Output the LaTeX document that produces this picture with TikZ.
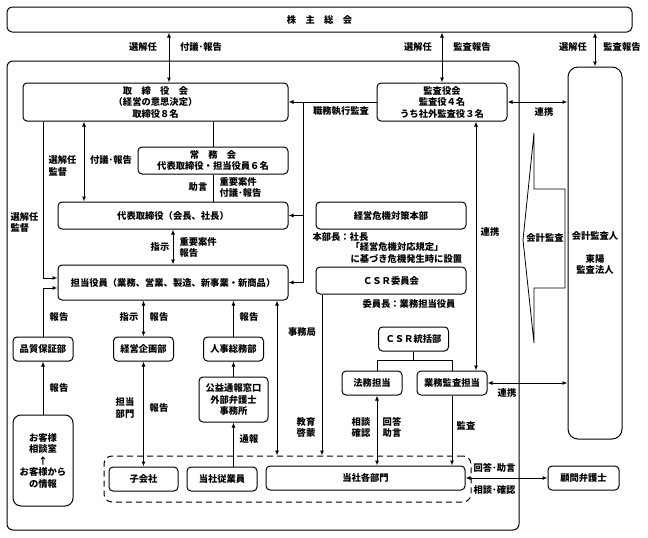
\documentclass[tikz,border=0pt]{standalone}
\usepackage{fontspec}
\setmainfont{Noto Sans CJK JP}
\usetikzlibrary{arrows.meta}
\begin{document}
\begin{tikzpicture}[x=1pt,y=-1pt,line width=1pt,>={Latex[length=5pt,width=4pt]},font=\bfseries\fontsize{9.3}{11.5}\selectfont]
\tikzstyle{unit} = [rectangle, rounded corners=4pt, draw=black, line width=1pt, inner sep=0pt, align=center]
\tikzstyle{lbl} = [inner sep=0pt, align=left]
\useasboundingbox (0,0) rectangle (648,538);
\draw[rounded corners=6pt] (7,61) rectangle (519,530);
\node[unit, rounded corners=5pt, minimum width=625pt, minimum height=25pt] at (319.5,19.5) (sh){株　主　総　会};
\node[unit, minimum width=265pt, minimum height=38pt] at (155.5,102) (board){取　締　役　会\\（経営の意思決定）\\取締役８名};
\node[unit, minimum width=130pt, minimum height=38pt] at (442,102) (kansa){監査役会\\監査役４名\\うち社外監査役３名};
\node[unit, rounded corners=10pt, minimum width=54pt, minimum height=372pt] at (595,253) (auditor){会計監査人\\[11.5pt]東陽\\監査法人};
\node[unit, minimum width=150pt, minimum height=27pt] at (213,160.5) (joumu){常　務　会\\代表取締役・担当役員６名};
\node[unit, minimum width=230pt, minimum height=27pt] at (173,215.5) (rep){代表取締役（会長、社長）};
\node[unit, minimum width=230pt, minimum height=35pt] at (173,282.5) (tantou){担当役員（業務、営業、製造、新事業・新商品）};
\node[unit, minimum width=150pt, minimum height=27pt] at (391,215.5) (crisis){経営危機対策本部};
\node[unit, minimum width=150pt, minimum height=27pt] at (391,280.5) (csr){ＣＳＲ委員会};
\node[unit, minimum width=60pt, minimum height=24pt] at (43,349) (qa){品質保証部};
\node[unit, minimum width=60pt, minimum height=24pt] at (143.5,349) (plan){経営企画部};
\node[unit, minimum width=60pt, minimum height=24pt] at (233.5,349) (hr){人事総務部};
\node[unit, minimum width=69pt, minimum height=45pt] at (233.5,399.5) (whistle){公益通報窓口\\外部弁護士\\事務所};
\node[unit, rounded corners=8pt, minimum width=60pt, minimum height=91pt] at (43,460.5) (cust){お客様\\相談室\\↑\\お客様から\\の情報};
\node[unit, dashed, dash pattern=on 6pt off 4pt, rounded corners=8pt, minimum width=367pt, minimum height=46pt] at (287.5,479) (grp){};
\node[unit, minimum width=69pt, minimum height=24pt] at (143.5,479) (sub){子会社};
\node[unit, minimum width=70pt, minimum height=24pt] at (222,479) (emp){当社従業員};
\node[unit, minimum width=199pt, minimum height=24pt] at (365.5,478) (dept){当社各部門};
\node[unit, minimum width=71pt, minimum height=24pt] at (583.5,478) (lawyer){顧問弁護士};
\node[unit, minimum width=70pt, minimum height=24pt] at (413.5,339) (csrhq){ＣＳＲ統括部};
\node[unit, minimum width=60pt, minimum height=24pt] at (372,383) (legal){法務担当};
\node[unit, minimum width=70pt, minimum height=24pt] at (452,383) (audit){業務監査担当};
% accounting audit arrow
\draw[line width=0.8pt] (565,189) -- (534,189) -- (534,133) -- (523,240) -- (534,343) -- (534,288) -- (565,288) -- cycle;
\node[lbl] at (545,238) (acc){会計監査};
% labels
\node[lbl] at (143,47) (t1){選解任};
\node[lbl] at (201,47) (t2){付議･報告};
\node[lbl] at (418,47) (t3){選解任};
\node[lbl] at (472,47) (t4){監査報告};
\node[lbl] at (573,47) (t5){選解任};
\node[lbl] at (622,47) (t6){監査報告};
\node[lbl] at (544,112) (t7){連携};
\node[lbl] at (341,111) (t8){職務執行監査};
\node[lbl, anchor=west] at (48,166) (t9){選解任\\監督};
\node[lbl] at (111,160) (t10){付議･報告};
\node[lbl, anchor=west] at (10,222.5) (t11){選解任\\監督};
\node[lbl] at (198,187) (t12){助言};
\node[lbl, anchor=west] at (219,187.5) (t13){重要案件\\付議･報告};
\node[lbl] at (160,247) (t14){指示};
\node[lbl, anchor=west] at (179,247.5) (t15){重要案件\\報告};
\node[lbl, anchor=west] at (312,237) (t16){本部長：社長};
\node[lbl, anchor=west] at (350,253) (t17){「経営危機対応規定」\\に基づき危機発生時に設置};
\node[lbl] at (490,232) (t18){連携};
\node[lbl, anchor=west] at (362,304) (t19){委員長：業務担当役員};
\node[lbl] at (302,332) (t20){事務局};
\node[lbl] at (59,317) (t21){報告};
\node[lbl] at (129,317) (t22){指示};
\node[lbl] at (159,317) (t23){報告};
\node[lbl] at (249,317) (t24){報告};
\node[lbl] at (59,388) (t25){報告};
\node[lbl] at (125,408) (t26){担当\\部門};
\node[lbl] at (159,408) (t27){報告};
\node[lbl] at (249,439) (t28){通報};
\node[lbl] at (306,427.5) (t29){教育\\啓蒙};
\node[lbl] at (361,427.5) (t30){相談\\確認};
\node[lbl] at (392,427.5) (t31){回答\\助言};
\node[lbl] at (466,426) (t32){監査};
\node[lbl, anchor=west] at (473,468) (t33){回答･助言};
\node[lbl, anchor=west] at (473,490) (t34){相談･確認};
\node[lbl] at (507,393) (t35){連携};
% lanes
\coordinate (l_sh) at (169,0);
\coordinate (l_rep) at (84,0);
\coordinate (l_aud) at (303,0);
\coordinate (l_jim) at (277,0);
\coordinate (l_csr) at (322,0);
\coordinate (l_law) at (377,0);
\coordinate (l_ren) at (476,0);
\coordinate (y_sel) at (0,278);
\coordinate (y_rpt) at (0,288);
\coordinate (y_tree) at (0,360);
\draw[<->] (l_sh |- sh.south) -- (l_sh |- board.north);
\draw[<->] (sh.south -| kansa.north) -- (kansa.north);
\draw[<->] (sh.south -| auditor.north) -- (auditor.north);
\draw[<->] (kansa.east) -- (kansa.east -| auditor.west);
\draw[->] (kansa.west) -- (board.east);
\draw[->] (l_aud |- kansa.west) -- (l_aud |- tantou.east) -- (tantou.east);
\draw[->] (l_aud |- rep.east) -- (rep.east);
\draw (board.south -| joumu.north) -- (joumu.north);
\draw (joumu.south) -- (joumu.south |- rep.north);
\draw[<->] (l_rep |- board.south) -- (l_rep |- rep.north);
\draw[<->] (rep.south) -- (tantou.north);
\draw[->] (board.south -| qa.north) -- (qa.north |- y_sel) -- (tantou.west |- y_sel);
\draw[->] (qa.north) -- (qa.north |- y_rpt) -- (tantou.west |- y_rpt);
\draw[->] (cust.north) -- (qa.south);
\draw[<->] (tantou.south -| plan.north) -- (plan.north);
\draw[->] (hr.north) -- (hr.north |- tantou.south);
\draw[<->] (plan.south) -- (sub.north);
\draw[->] (whistle.north) -- (hr.south);
\draw[->] (emp.north -| whistle.south) -- (whistle.south);
\draw[<->] (l_jim |- tantou.south) -- (l_jim |- grp.north);
\draw[->] (l_csr |- csr.south) -- (l_csr |- grp.north);
\draw (csrhq.south) -- (csrhq.south |- y_tree);
\draw (l_law |- legal.north) -- (l_law |- y_tree) -- (audit.north |- y_tree) -- (audit.north);
\draw[<->] (l_law |- legal.south) -- (l_law |- dept.north);
\draw[->] (audit.south) -- (audit.south |- dept.north);
\draw[<->] (l_ren |- kansa.south) -- (l_ren |- audit.north);
\draw[<->] (audit.east) -- (audit.east -| auditor.west);
\draw[<->] (dept.east) -- (lawyer.west);
\end{tikzpicture}
\end{document}
